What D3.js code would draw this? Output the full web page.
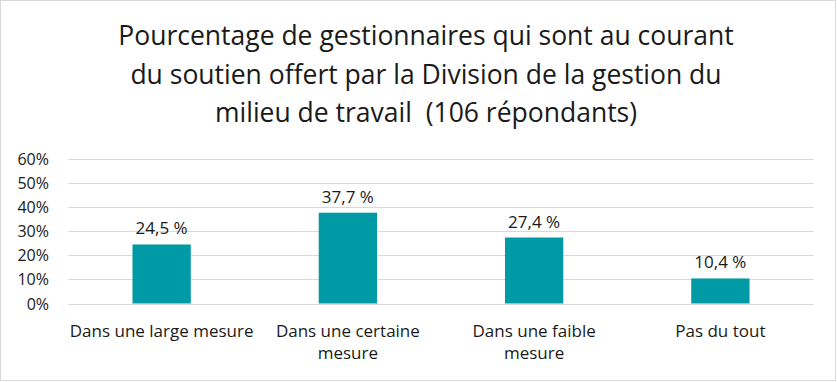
<!DOCTYPE html>
<html><head><meta charset="utf-8">
<script src="https://cdn.jsdelivr.net/npm/d3@7"></script>
<style>body{margin:0;background:#fff}svg{display:block}text{font-family:"Open Sans",sans-serif;fill:#1a1a1a;white-space:pre}</style>
</head><body><svg id="c" width="837" height="382"></svg>
<script>
const categories = [["Dans une large mesure"], ["Dans une certaine", "mesure"], ["Dans une faible", "mesure"], ["Pas du tout"]];
const values = [24.5, 37.7, 27.4, 10.4];
const valueLabels = ["24,5 %", "37,7 %", "27,4 %", "10,4 %"];
const yTicks = [0, 10, 20, 30, 40, 50, 60];
const titleLines = ["Pourcentage de gestionnaires qui sont au courant", "du soutien offert par la Division de la gestion du", "milieu de travail  (106 répondants)"];

const svg = d3.select("#c");
svg.append("rect").attr("x",0.5).attr("y",0.5).attr("width",835).attr("height",380).attr("fill","#fff").attr("stroke","#d9d9d9");

const x = d3.scaleBand().domain(d3.range(categories.length)).range([68.5, 813.5]).paddingInner(0.687).paddingOuter(0.3435);
const y = d3.scaleLinear().domain([0, 60]).range([303.5, 159]);

svg.append("g").selectAll("line").data(yTicks).join("line")
  .attr("x1",68.5).attr("x2",813.5).attr("y1",d=>Math.round(y(d))+0.5).attr("y2",d=>Math.round(y(d))+0.5)
  .attr("stroke","#d9d9d9").attr("stroke-width",1);

svg.append("g").selectAll("text").data(yTicks).join("text")
  .attr("x",49).attr("y",d=>y(d)+6).attr("text-anchor","end").attr("font-size",16).text(d=>d+"%");

svg.append("g").selectAll("rect").data(values).join("rect")
  .attr("x",(d,i)=>x(i)).attr("width",x.bandwidth()).attr("y",d=>y(d)).attr("height",d=>y(0)-y(d)).attr("fill","#009aa6");

svg.append("g").selectAll("text").data(values).join("text")
  .attr("x",(d,i)=>x(i)+x.bandwidth()/2).attr("y",d=>y(d)-10).attr("text-anchor","middle").attr("font-size",17).text((d,i)=>valueLabels[i]);

const cat = svg.append("g").selectAll("text").data(categories).join("text")
  .attr("x",(d,i)=>x(i)+x.bandwidth()/2).attr("y",337).attr("text-anchor","middle").attr("font-size",17);
cat.selectAll("tspan").data(d=>d).join("tspan").attr("x",function(){return this.parentNode.getAttribute("x");}).attr("dy",(d,j)=>j?22:0).text(d=>d);

svg.append("g").selectAll("text").data(titleLines).join("text")
  .attr("x",426).attr("y",(d,i)=>45+i*38.5).attr("text-anchor","middle").attr("font-size",26.5).text(d=>d);
</script></body></html>
